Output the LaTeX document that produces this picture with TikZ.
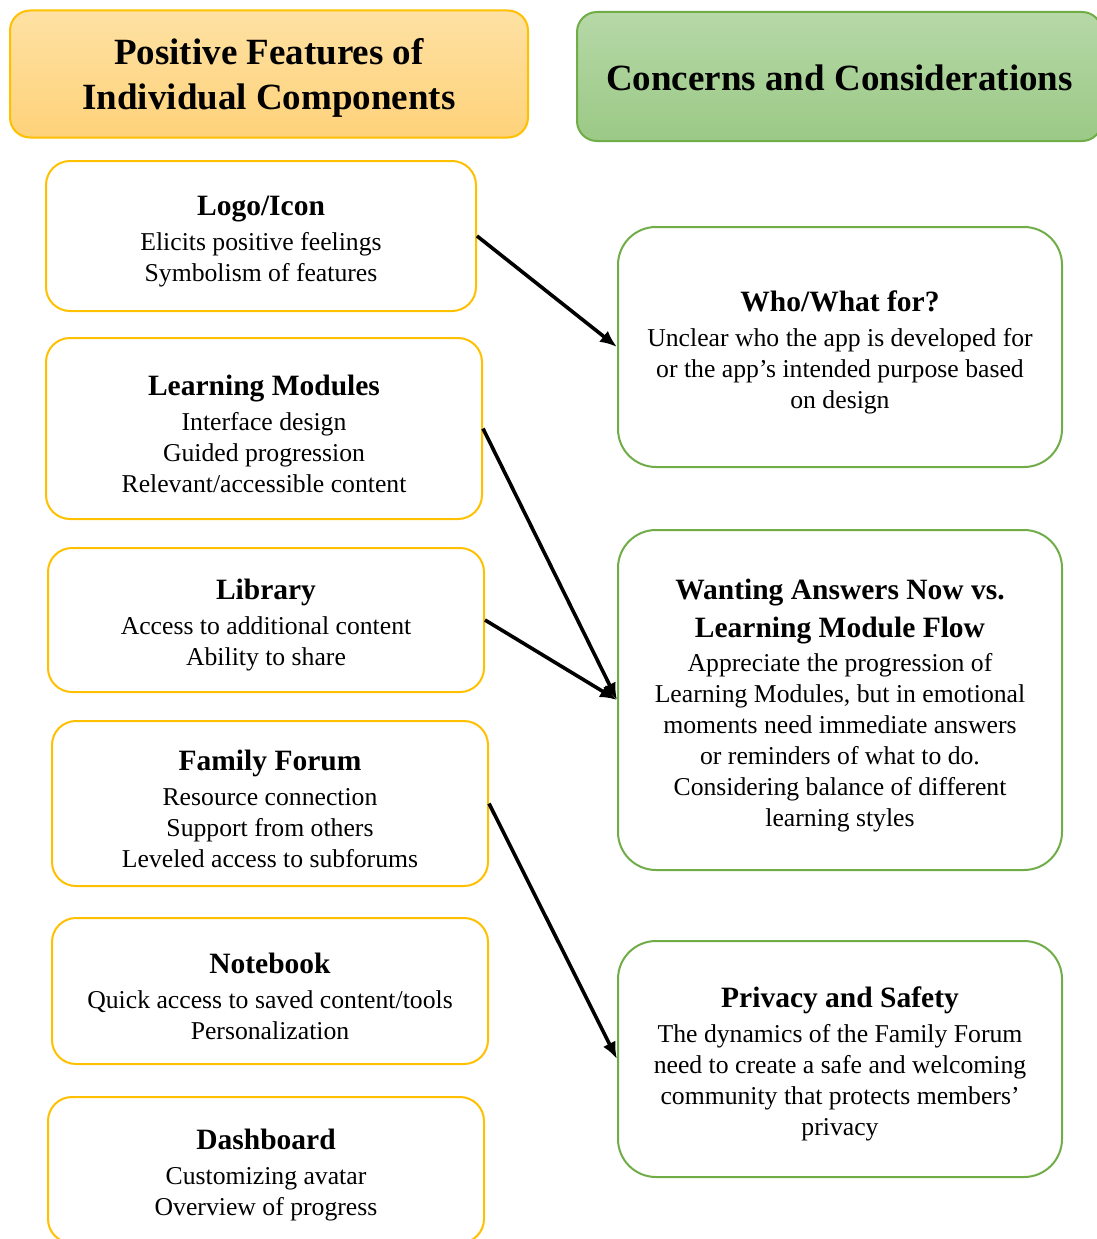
\documentclass[tikz,border=0pt]{standalone}
\usepackage{fontspec}
\setmainfont{Liberation Serif}
\usetikzlibrary{arrows.meta}

\definecolor{gold}{HTML}{FFC000}
\definecolor{leaf}{HTML}{70AD47}
% box title; the strut keeps the text block a little lower in its box
\newcommand{\ttl}[1]{{\fontsize{29.5}{35}\selectfont\bfseries\rule{0pt}{31pt}#1}}
\newcommand{\ttlb}[1]{{\fontsize{29.5}{35}\selectfont\bfseries #1}}

\begin{document}
\begin{tikzpicture}[x=1pt,y=-1pt,
    box/.style={draw,line width=2pt,fill=white,rounded corners=24pt,align=center,inner sep=0pt,
      font=\fontsize{25.7}{31}\selectfont},
    featbox/.style={box,draw=gold},
    concbox/.style={box,draw=leaf,rounded corners=38pt,minimum width=444pt},
    hdr/.style={draw,line width=2pt,rounded corners=20pt,align=center,inner sep=0pt,
      font=\fontsize{37}{45}\selectfont\bfseries},
    arr/.style={line width=3.6pt,-{Latex[length=17pt,width=14pt]}}]
  \useasboundingbox (0,0) rectangle (1096,1239);

  % column headers
  \node[hdr,draw=gold,top color={rgb,255:red,254;green,225;blue,163},bottom color={rgb,255:red,254;green,210;blue,122},
    minimum width=518pt,minimum height=127pt] (poshdr) at (269,74) {\rule{0pt}{33pt}Positive Features of\\Individual Components};
  \node[hdr,draw=leaf,top color={rgb,255:red,182;green,216;blue,167},bottom color={rgb,255:red,155;green,201;blue,134},
    minimum width=525pt,minimum height=129pt] (conhdr) at (839.5,76.5) {\rule{0pt}{29pt}Concerns and Considerations};

  % positive features
  \node[featbox,minimum width=430pt,minimum height=150pt] (logo) at (261,236)
    {\ttl{Logo/Icon}\\[4pt] Elicits positive feelings\\ Symbolism of features};
  \node[featbox,minimum width=436pt,minimum height=181pt] (modules) at (264,428.5)
    {\ttl{Learning Modules}\\[4pt] Interface design\\ Guided progression\\ Relevant/accessible content};
  \node[featbox,minimum width=436pt,minimum height=144pt] (library) at (266,620)
    {\ttl{Library}\\[4pt] Access to additional content\\ Ability to share};
  \node[featbox,minimum width=436pt,minimum height=165pt] (forum) at (270,803.5)
    {\ttl{Family Forum}\\[4pt] Resource connection\\ Support from others\\ Leveled access to subforums};
  \node[featbox,minimum width=436pt,minimum height=146pt] (notebook) at (270,991)
    {\ttl{Notebook}\\[4pt] Quick access to saved content/tools\\ Personalization};
  \node[featbox,minimum width=436pt,minimum height=146pt] (dashboard) at (266,1170)
    {\ttl{Dashboard}\\[4pt] Customizing avatar\\ Overview of progress};

  % concerns
  \node[concbox,minimum height=240pt] (whofor) at (840,347)
    {\ttl{Who/What for?}\\[4pt] Unclear who the app is developed for\\ or the app’s intended purpose based\\ on design};
  \node[concbox,minimum height=340pt] (answers) at (840,700)
    {\ttl{Wanting Answers Now vs.}\\[7pt] \ttlb{Learning Module Flow}\\[3pt] Appreciate the progression of\\
     Learning Modules, but in emotional\\ moments need immediate answers\\ or reminders of what to do.\\
     Considering balance of different\\ learning styles};
  \node[concbox,minimum height=236pt] (privacy) at (840,1059)
    {\ttl{Privacy and Safety}\\[4pt] The dynamics of the Family Forum\\ need to create a safe and welcoming\\
     community that protects members’\\ privacy};

  \draw[arr] (logo.east) -- (whofor.west);
  \draw[arr] (modules.east) -- (answers.west);
  \draw[arr] (library.east) -- (answers.west);
  \draw[arr] (forum.east) -- (privacy.west);
\end{tikzpicture}
\end{document}
